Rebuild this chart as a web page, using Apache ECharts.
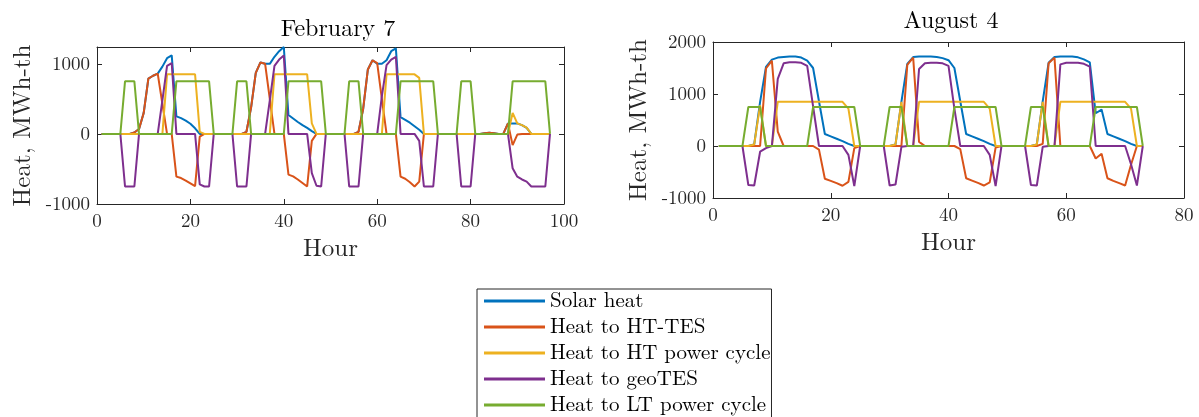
<!DOCTYPE html>
<html>
<head>
<meta charset="utf-8">
<script src="https://cdn.jsdelivr.net/npm/echarts@6/dist/echarts.min.js"></script>
<style>
  html, body { margin: 0; padding: 0; background: #fff; }
  #chart { width: 1199px; height: 417px; }
</style>
</head>
<body>
<div id="chart"></div>
<script>
// Series names and MATLAB-style colours
const seriesNames = ['Solar heat', 'Heat to HT-TES', 'Heat to HT power cycle', 'Heat to geoTES', 'Heat to LT power cycle'];
const seriesColors = ['#0072BD', '#D95319', '#EDB120', '#7E2F8E', '#77AC30'];

// Panel titles and axis tick labels
const panelTitles = ['February 7', 'August 4'];
const febXTicks = [0, 20, 40, 60, 80, 100];
const augXTicks = [0, 20, 40, 60, 80];
const febYTicks = [-1000, 0, 1000];
const augYTicks = [-1000, 0, 1000, 2000];

// February 7 — hourly heat flows, MWh-th (hours 1..97)
const febSolar = [
  0, 0, 0, 0, 0, 0, 0,
  20, 70, 300, 790, 830, 860, 960, 1080, 1120, 250, 225, 190, 145, 80, 0,
  0, 0, 0, 0, 0, 0, 0, 0, 0,
  30, 380, 870, 1020, 1000, 1000, 1100, 1180, 1240, 270, 220, 170, 125, 85, 40, 0,
  0, 0, 0, 0, 0, 0, 0, 0,
  30, 360, 920, 1050, 1000, 1000, 1050, 1180, 1220, 240, 200, 160, 110, 60, 0,
  0, 0, 0, 0, 0, 0, 0, 0, 0, 0, 0, 0,
  10, 15, 10, 0, 0, 150, 150, 150, 125, 85, 0,
  0, 0, 0, 0
];
const febHtTes = [
  0, 0, 0, 0, 0, 0, 0,
  20, 70, 300, 790, 830, 860, 430, 0, 0, -610, -630, -665, -705, -745, -40,
  0, 0, 0, 0, 0, 0, 0, 0, 0,
  30, 380, 870, 1020, 1000, 500, 0, 0, 0, -580, -605, -650, -700, -750, -100, 0,
  0, 0, 0, 0, 0, 0, 0, 0,
  30, 360, 920, 1050, 1010, 500, 0, 0, 0, -610, -640, -690, -750, -680, 0,
  0, 0, 0, 0, 0, 0, 0, 0, 0, 0, 0, 0,
  10, 15, 10, 0, 0, 150, -160, -10, 0, 0, 0,
  0, 0, 0, 0
];
const febHtCycle = [
  0, 0, 0, 0, 0, 0, 0, 0, 0, 0, 0, 0, 0, 0,
  850, 850, 850, 850, 850, 850, 850,
  30,
  0, 0, 0, 0, 0, 0, 0, 0, 0, 0, 0, 0, 0, 0, 0,
  850, 850, 850, 850, 850, 850, 850, 850,
  150,
  0, 0, 0, 0, 0, 0, 0, 0, 0, 0, 0, 0, 0, 0, 0,
  850, 850, 850, 850, 850, 850, 850,
  800,
  0, 0, 0, 0, 0, 0, 0, 0, 0, 0, 0, 0, 0, 0, 0, 0, 0, 0, 0,
  300, 150, 125, 90,
  0, 0, 0, 0, 0
];
const febGeoTes = [
  0, 0, 0, 0, 0,
  -750, -750, -750,
  0, 0, 0, 0, 0,
  480, 970, 1010,
  0, 0, 0, 0, 0,
  -720, -750, -750,
  0, 0, 0, 0, 0,
  -750, -750, -750,
  0, 0, 0, 0,
  480, 970, 1060, 1120,
  0, 0, 0, 0, 0,
  -560, -740, -750,
  0, 0, 0, 0, 0,
  -750, -750, -750,
  0, 0, 0, 0,
  540, 980, 1060, 1100,
  0, 0, 0, 0,
  -100, -750, -750, -750,
  0, 0, 0, 0, 0,
  -750, -750, -750,
  0, 0, 0, 0, 0, 0, 0, 0,
  -490, -610, -650, -680, -750, -750, -750, -750,
  0
];
const febLtCycle = [
  0, 0, 0, 0, 0, 750, 750, 750,
  0, 0, 0, 0, 0, 0, 0, 0,
  750, 750, 750, 750, 750, 750, 750, 750,
  0, 0, 0, 0, 0, 750, 750, 750,
  0, 0, 0, 0, 0, 0, 0, 0,
  750, 750, 750, 750, 750, 750, 750, 750,
  0, 0, 0, 0, 0, 750, 750, 750,
  0, 0, 0, 0, 0, 0, 0, 0,
  750, 750, 750, 750, 750, 750, 750, 750,
  0, 0, 0, 0, 0, 750, 750, 750,
  0, 0, 0, 0, 0, 0, 0, 0,
  750, 750, 750, 750, 750, 750, 750, 750,
  0
];

// August 4 — hourly heat flows, MWh-th (hours 1..73)
const augSolar = [
  0, 0, 0, 0, 0, 0,
  30, 850, 1520, 1660, 1700, 1710, 1720, 1720, 1700, 1640, 1500, 860, 230, 185, 140, 95, 40, 0,
  0, 0, 0, 0, 0, 0,
  30, 850, 1580, 1710, 1720, 1720, 1720, 1710, 1690, 1650, 1500, 860, 230, 185, 140, 95, 40, 0,
  0, 0, 0, 0, 0, 0,
  30, 860, 1600, 1710, 1720, 1720, 1720, 1705, 1665, 1610, 630, 700, 230, 185, 140, 95, 40, 0,
  0
];
const augHtTes = [
  0, 0, 0, 0, 0, 0, 0,
  0, 1490, 1640, 275, 0,
  0, 0, 0, 0, 0,
  -70, -630, -670, -715, -765, -690, -40,
  0, 0, 0, 0, 0, 0, 0,
  0, 1560, 1700, 80, 0,
  0, 0, 0, 0, 0,
  -60, -620, -665, -710, -760, -700, -30,
  0, 0, 0, 0, 0, 0, 0,
  40, 1590, 1700, 0,
  0, 0, 0, 0, 0,
  -240, -150, -620, -670, -715, -760, -360, 0,
  0
];
const augHtCycle = [
  0, 0, 0, 0, 0, 0,
  30, 780, 0, 0,
  850, 850, 850, 850, 850, 850, 850, 850, 850, 850, 850, 850,
  720,
  0, 0, 0, 0, 0, 0, 0,
  30, 850, 0, 0,
  850, 850, 850, 850, 850, 850, 850, 850, 850, 850, 850, 850,
  720,
  0, 0, 0, 0, 0, 0, 0,
  30, 850, 0, 0,
  850, 850, 850, 850, 850, 850, 850, 850, 850, 850, 850, 850,
  720,
  0, 0
];
const augGeoTes = [
  0, 0, 0, 0, 0,
  -750, -760, -110, -40, 0,
  1290, 1590, 1610, 1610, 1600, 1540, 760,
  0, 0, 0, 0, 0,
  -170, -770,
  0, 0, 0, 0, 0,
  -760, -740, -15, 0, 0,
  1480, 1590, 1600, 1600, 1590, 1540, 720,
  0, 0, 0, 0, 0,
  -170, -770,
  0, 0, 0, 0, 0,
  -750, -760, -15, 0, 0,
  1570, 1600, 1600, 1600, 1580, 1525,
  0, 0, 0, 0, 0, 0,
  -350, -760,
  0
];
const augLtCycle = [
  0, 0, 0, 0, 0, 750, 750, 750,
  0, 0, 0, 0, 0, 0, 0, 0,
  750, 750, 750, 750, 750, 750, 750, 750,
  0, 0, 0, 0, 0, 750, 750, 750,
  0, 0, 0, 0, 0, 0, 0, 0,
  750, 750, 750, 750, 750, 750, 750, 750,
  0, 0, 0, 0, 0, 750, 750, 750,
  0, 0, 0, 0, 0, 0, 0, 0,
  750, 750, 750, 750, 750, 750, 750, 750,
  0
];

const febSeries = [febSolar, febHtTes, febHtCycle, febGeoTes, febLtCycle];
const augSeries = [augSolar, augHtTes, augHtCycle, augGeoTes, augLtCycle];

const FONT = "'Latin Modern Roman','CMU Serif','Liberation Serif','DejaVu Serif',serif";
const AXIS_COLOR = '#262626';

// value -> [hour, value] pairs, hours counted from 1
function toPairs(values) {
  return values.map((v, i) => [i + 1, v]);
}

function tickFormatter(ticks) {
  return v => (ticks.indexOf(v) >= 0 ? String(v) : '');
}

function xAxes(grid, max, ticks) {
  const base = {
    type: 'value', gridIndex: grid, min: 0, max: max, interval: 20,
    splitLine: { show: false },
    axisLine: { show: true, onZero: false, lineStyle: { color: AXIS_COLOR, width: 1 } },
    axisTick: { show: true, inside: true, length: 5, lineStyle: { color: AXIS_COLOR } }
  };
  return [
    Object.assign({}, base, {
      position: 'bottom',
      axisLabel: { color: AXIS_COLOR, fontFamily: FONT, fontSize: 19, margin: 8, formatter: tickFormatter(ticks) },
      name: 'Hour', nameLocation: 'middle', nameGap: 32,
      nameTextStyle: { color: AXIS_COLOR, fontFamily: FONT, fontSize: 25 }
    }),
    Object.assign({}, base, { position: 'top', axisLabel: { show: false } })
  ];
}

function yAxes(grid, min, max, ticks, nameGap) {
  const base = {
    type: 'value', gridIndex: grid, min: min, max: max, interval: 1000,
    splitLine: { show: false },
    axisLine: { show: true, onZero: false, lineStyle: { color: AXIS_COLOR, width: 1 } },
    axisTick: { show: true, inside: true, length: 5, lineStyle: { color: AXIS_COLOR } }
  };
  return [
    Object.assign({}, base, {
      position: 'left',
      axisLabel: { color: AXIS_COLOR, fontFamily: FONT, fontSize: 19, margin: 7, formatter: tickFormatter(ticks) },
      name: 'Heat, MWh-th', nameLocation: 'middle', nameGap: nameGap,
      nameTextStyle: { color: AXIS_COLOR, fontFamily: FONT, fontSize: 25 }
    }),
    Object.assign({}, base, { position: 'right', axisLabel: { show: false } })
  ];
}

function panelSeries(data, axisOffset) {
  return data.map((vals, k) => ({
    name: seriesNames[k],
    type: 'line',
    xAxisIndex: axisOffset,
    yAxisIndex: axisOffset,
    data: toPairs(vals),
    showSymbol: false,
    symbol: 'none',
    clip: true,
    lineStyle: { color: seriesColors[k], width: 2 },
    itemStyle: { color: seriesColors[k] },
    emphasis: { disabled: true }
  }));
}

const chart = echarts.init(document.getElementById('chart'), null, { renderer: 'canvas' });

const option = {
  animation: false,
  backgroundColor: '#ffffff',
  title: [
    { text: panelTitles[0], left: 333, top: 12, textAlign: 'center',
      textStyle: { fontFamily: FONT, fontSize: 24, fontWeight: 'normal', color: '#000' } },
    { text: panelTitles[1], left: 946, top: 4, textAlign: 'center',
      textStyle: { fontFamily: FONT, fontSize: 24, fontWeight: 'normal', color: '#000' } }
  ],
  grid: [
    { left: 97, right: 635, top: 47, bottom: 213, containLabel: false },
    { left: 713, right: 15, top: 42, bottom: 219, containLabel: false }
  ],
  xAxis: [].concat(xAxes(0, 100, febXTicks), xAxes(1, 80, augXTicks)),
  yAxis: [].concat(yAxes(0, -1000, 1240, febYTicks, 62), yAxes(1, -1000, 2000, augYTicks, 62)),
  legend: {
    data: seriesNames,
    orient: 'vertical',
    left: 477,
    top: 289,
    height: 160,
    icon: 'rect',
    itemWidth: 61,
    itemHeight: 3,
    itemGap: 4,
    padding: [1, 1, 4, 7],
    backgroundColor: '#ffffff',
    borderColor: AXIS_COLOR,
    borderWidth: 1,
    selectedMode: false,
    textStyle: { fontFamily: FONT, fontSize: 21, lineHeight: 22, color: '#000' }
  },
  series: [].concat(panelSeries(febSeries, 0), panelSeries(augSeries, 2))
};

chart.setOption(option);
</script>
</body>
</html>
